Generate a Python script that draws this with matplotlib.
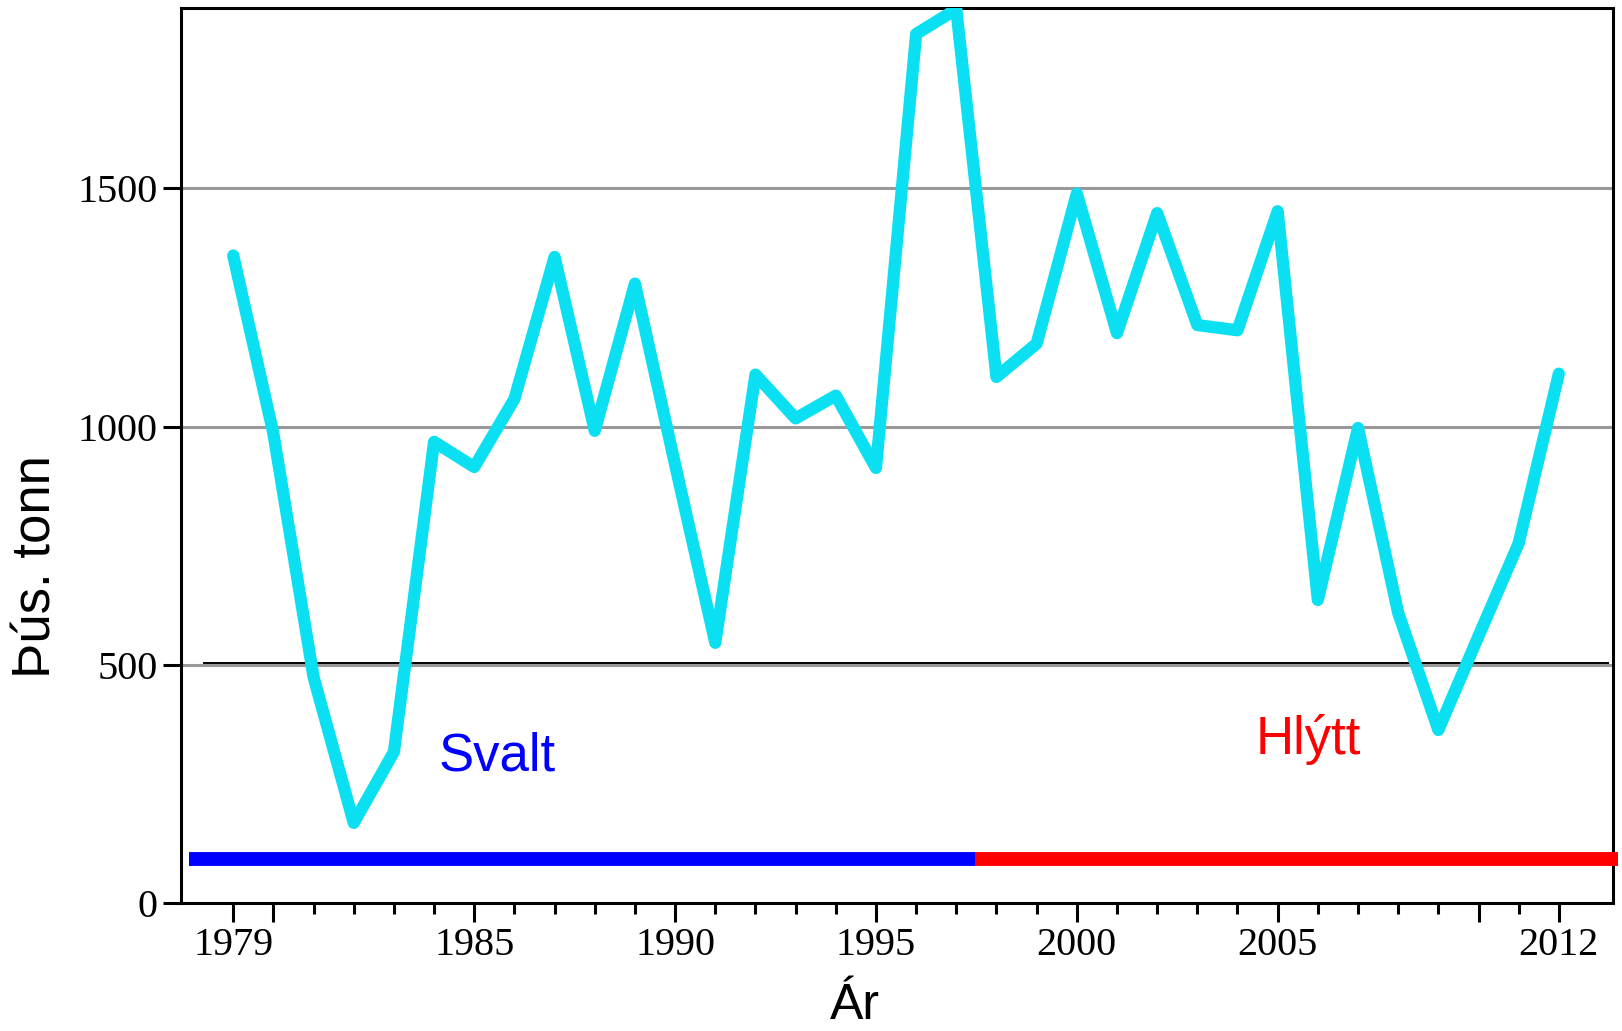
import matplotlib
matplotlib.use("Agg")
import matplotlib.pyplot as plt
from matplotlib.ticker import FixedLocator, NullFormatter

years = list(range(1979, 2013))
values = [1359, 985, 474, 168, 317, 968, 915, 1058, 1356, 991,
          1300, 920, 546, 1109, 1017, 1065, 913, 1824, 1876, 1104,
          1174, 1489, 1196, 1448, 1213, 1202, 1452, 636, 997, 609,
          363, 560, 755, 1111]

major_ticks = [1979, 1980, 1985, 1990, 1995, 2000, 2005, 2010, 2012]
major_labels = ["1979", "", "1985", "1990", "1995", "2000", "2005", "", "2012"]
y_ticks = [0, 500, 1000, 1500]
y_labels = ["0", "500", "1000", "1500"]

cold_period = (1977.9, 1997.46)
warm_period = (1997.46, 2013.47)
period_level = 92
cold_label = "Svalt"
warm_label = "Hlýtt"

fig = plt.figure(figsize=(16.22, 10.31), dpi=100)
ax = fig.add_axes([0.1116, 0.1242, 0.9945 - 0.1116, 0.992 - 0.1242])

ax.set_xlim(1977.70, 2013.35)
ax.set_ylim(0, 1878)

for yv in [500, 1000, 1500]:
    ax.axhline(yv, color="#999999", lw=2.2, zorder=1)
ax.plot([1978.27, 2013.22], [503.5, 503.5], color="black", lw=1.4, zorder=2)

ax.plot(years, values, color="#0BE0F2", lw=8.8, solid_joinstyle="round",
        solid_capstyle="round", zorder=4)

ax.plot(cold_period, [period_level, period_level], color="#0000FF", lw=10,
        solid_capstyle="butt", zorder=3, clip_on=False)
ax.plot(warm_period, [period_level, period_level], color="#FF0000", lw=10,
        solid_capstyle="butt", zorder=3, clip_on=False)

ax.text(1984.10, 279, cold_label, color="#0000FF", fontsize=38,
        family="Liberation Sans", ha="left", va="baseline")
ax.text(2004.45, 312, warm_label, color="#FF0000", fontsize=38,
        family="Liberation Sans", ha="left", va="baseline")

ax.xaxis.set_major_locator(FixedLocator(major_ticks))
ax.set_xticklabels(major_labels)
ax.xaxis.set_minor_locator(FixedLocator(years))
ax.xaxis.set_minor_formatter(NullFormatter())
ax.set_yticks(y_ticks)
ax.set_yticklabels(y_labels)

ax.tick_params(axis="x", which="major", direction="out", length=13.5, width=2.2,
               pad=4, labelsize=29)
ax.tick_params(axis="x", which="minor", direction="out", length=8, width=2.2)
ax.tick_params(axis="y", which="major", direction="out", length=13, width=2.2,
               pad=4, labelsize=29)
for lab in ax.get_xticklabels() + ax.get_yticklabels():
    lab.set_family("Liberation Serif")

for sp in ax.spines.values():
    sp.set_linewidth(2.2)
    sp.set_color("black")

fig.text(0.0222, 0.45, "Þús. tonn", rotation=90, ha="center", va="center",
         fontsize=38, family="Liberation Sans")
fig.text(0.527, 1 - 1019 / 1031, "Ár", ha="center", va="baseline",
         fontsize=36, family="Liberation Sans")

fig.savefig("out.png", dpi=100)
